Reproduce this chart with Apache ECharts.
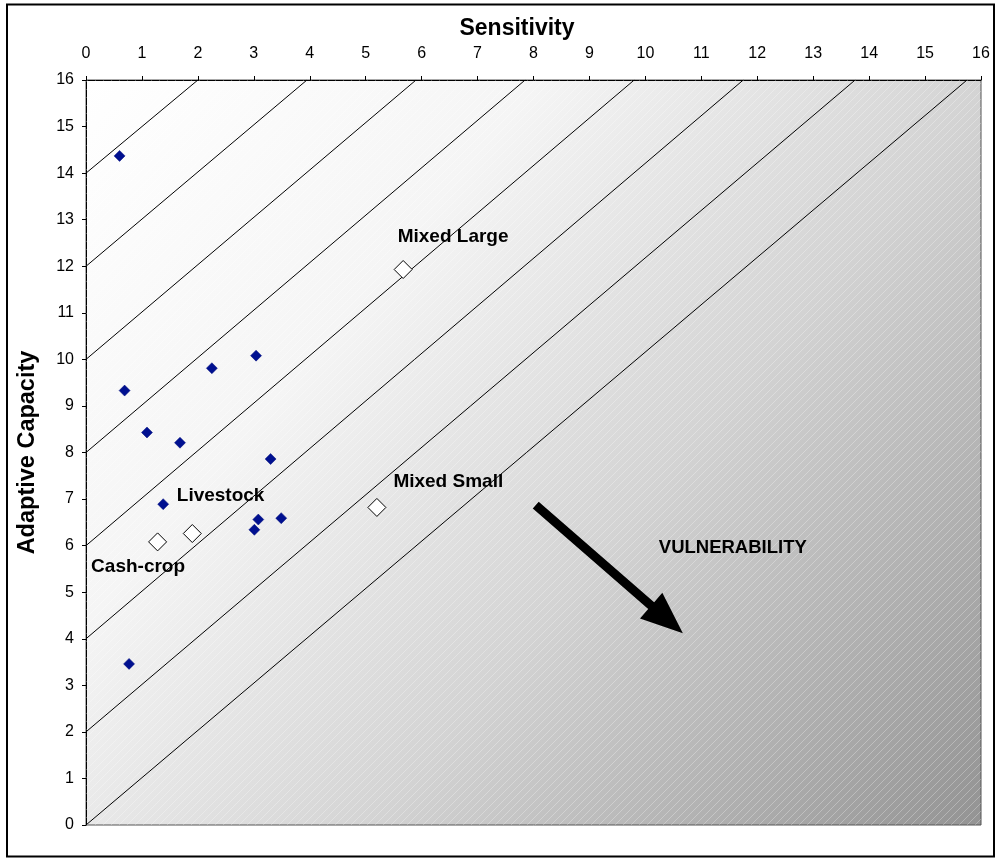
<!DOCTYPE html>
<html>
<head>
<meta charset="utf-8">
<script src="https://cdn.jsdelivr.net/npm/echarts@6/dist/echarts.min.js"></script>
<style>
html,body{margin:0;padding:0;background:#fff;}
#chart{width:996px;height:858px;}
</style>
</head>
<body>
<div id="chart"></div>
<script>
// Individual farm points (Sensitivity, Adaptive Capacity)
const farmSensitivity = [0.60, 0.69, 1.09, 1.68, 2.25, 3.04, 3.30, 1.38, 3.08, 3.49, 3.01, 0.77];
const farmCapacity    = [14.37, 9.33, 8.43, 8.21, 9.81, 10.08, 7.86, 6.89, 6.56, 6.59, 6.34, 3.46];

// Farm-type averages
const typeNames       = ['Mixed Large', 'Mixed Small', 'Livestock', 'Cash-crop'];
const typeSensitivity = [5.67, 5.20, 1.90, 1.28];
const typeCapacity    = [11.93, 6.82, 6.26, 6.08];

// Iso-vulnerability diagonal lines: start capacity at x=0, end sensitivity at y=16
const isoStartY = [14, 12, 10, 8, 6, 4, 2, 0];
const isoEndX   = [2.0, 3.95, 5.9, 7.85, 9.8, 11.75, 13.75, 15.75];

// Axis ticks
const axisMin = 0, axisMax = 16, axisStep = 1;

// Arrow annotation (data coords) and label
const arrowFrom = [8.04, 6.87];
const arrowTo   = [10.67, 4.12];
const vulnLabel = 'VULNERABILITY';
const vulnPos   = [10.24, 5.95];

const chart = echarts.init(document.getElementById('chart'), null, {renderer: 'canvas'});

// hatch pattern
const pc = document.createElement('canvas');
pc.width = 8; pc.height = 8;
const pctx = pc.getContext('2d');
pctx.strokeStyle = 'rgba(255,255,255,0.28)';
pctx.lineWidth = 1;
pctx.beginPath();
pctx.moveTo(-1, 9); pctx.lineTo(9, -1);
pctx.moveTo(-1, 1); pctx.lineTo(1, -1);
pctx.moveTo(7, 9); pctx.lineTo(9, 7);
pctx.stroke();

const isoSeries = isoStartY.map((y0, i) => ({
  type: 'line',
  data: [[0, y0], [isoEndX[i], 16]],
  symbol: 'none',
  lineStyle: {color: '#000', width: 1},
  silent: true,
  z: 3,
  animation: false
}));

const labelPos = {
  'Mixed Large': [4, -23],
  'Mixed Small': [26, -16],
  'Livestock': [-6, -28],
  'Cash-crop': [-57, 34]
};

const labelStyle = {
  show: true, color: '#000', fontSize: 19, fontWeight: 'bold',
  fontFamily: 'Liberation Sans, Arial', align: 'left', verticalAlign: 'middle'
};

const typeData = typeNames.map((n, i) => ({
  value: [typeSensitivity[i], typeCapacity[i]],
  name: n,
  label: Object.assign({}, labelStyle, {formatter: n, position: labelPos[n]})
}));

const option = {
  animation: false,
  backgroundColor: '#fff',
  grid: {
    left: 86, top: 80, right: 15, bottom: 33,
    show: true,
    borderColor: '#555',
    borderWidth: 1,
    backgroundColor: new echarts.graphic.LinearGradient(0, 0, 1, 1, [
      {offset: 0, color: '#ffffff'},
      {offset: 0.3, color: '#f5f5f5'},
      {offset: 0.6, color: '#d3d3d3'},
      {offset: 1, color: '#939393'}
    ])
  },
  xAxis: {
    type: 'value', position: 'top',
    min: axisMin, max: axisMax, interval: axisStep,
    name: 'Sensitivity', nameLocation: 'middle', nameGap: 40,
    nameTextStyle: {fontFamily: 'Liberation Sans, Arial', fontSize: 23, fontWeight: 'bold', color: '#000', padding: [0, 33, 0, 0]},
    axisLine: {show: true, onZero: false, lineStyle: {color: '#000', width: 1}},
    axisTick: {show: true, length: 4, lineStyle: {color: '#000'}},
    axisLabel: {color: '#000', fontSize: 16, fontFamily: 'Liberation Sans, Arial', margin: 18},
    splitLine: {show: false}
  },
  yAxis: {
    type: 'value',
    min: axisMin, max: axisMax, interval: axisStep,
    name: 'Adaptive Capacity', nameLocation: 'middle', nameGap: 46,
    nameTextStyle: {fontFamily: 'Liberation Sans, Arial', fontSize: 23.5, fontWeight: 'bold', color: '#000'},
    axisLine: {show: true, onZero: false, lineStyle: {color: '#000', width: 1}},
    axisTick: {show: true, length: 4, lineStyle: {color: '#000'}},
    axisLabel: {color: '#000', fontSize: 16, fontFamily: 'Liberation Sans, Arial', margin: 12},
    splitLine: {show: false}
  },
  series: [
    ...isoSeries,
    {
      type: 'scatter',
      data: farmSensitivity.map((x, i) => [x, farmCapacity[i]]),
      symbol: 'diamond',
      symbolSize: [11, 11],
      itemStyle: {color: '#001090', borderColor: '#000c7a', borderWidth: 0.5, opacity: 1},
      z: 5
    },
    {
      type: 'scatter',
      data: typeData,
      symbol: 'diamond',
      symbolSize: [18, 18],
      itemStyle: {color: '#fff', borderColor: '#000', borderWidth: 1, opacity: 1},
      label: labelStyle,
      z: 6
    }
  ]
};
chart.setOption(option);

function buildGraphics() {
  const gl = 86, gt = 80, gw = 996 - 86 - 15, gh = 858 - 80 - 33;
  const p0 = chart.convertToPixel({gridIndex: 0}, arrowFrom);
  const p1 = chart.convertToPixel({gridIndex: 0}, arrowTo);
  const dx = p1[0] - p0[0], dy = p1[1] - p0[1];
  const len = Math.sqrt(dx * dx + dy * dy);
  const ux = dx / len, uy = dy / len;
  const nx = -uy, ny = ux;
  const headLen = 42, headHalf = 17, shaftHalf = 4.5;
  const bx = p1[0] - ux * headLen, by = p1[1] - uy * headLen;
  const pts = [
    [p0[0] + nx * shaftHalf, p0[1] + ny * shaftHalf],
    [bx + nx * shaftHalf, by + ny * shaftHalf],
    [bx + nx * headHalf, by + ny * headHalf],
    [p1[0], p1[1]],
    [bx - nx * headHalf, by - ny * headHalf],
    [bx - nx * shaftHalf, by - ny * shaftHalf],
    [p0[0] - nx * shaftHalf, p0[1] - ny * shaftHalf]
  ];
  const vp = chart.convertToPixel({gridIndex: 0}, vulnPos);
  chart.setOption({
    graphic: [
      {
        type: 'rect', z: 1, silent: true,
        shape: {x: gl, y: gt, width: gw, height: gh},
        style: {fill: {image: pc, repeat: 'repeat'}}
      },
      {
        type: 'polygon', z: 10, silent: true,
        shape: {points: pts},
        style: {fill: '#000'}
      },
      {
        type: 'text', z: 10, silent: true,
        x: vp[0], y: vp[1],
        style: {text: vulnLabel, fill: '#000', fontSize: 18.5, fontWeight: 'bold',
                fontFamily: 'Liberation Sans, Arial', verticalAlign: 'middle'}
      },
      {
        type: 'rect', z: 10, silent: true,
        shape: {x: 7, y: 4.5, width: 987, height: 852},
        style: {fill: 'none', stroke: '#000', lineWidth: 2}
      }
    ]
  });
}
buildGraphics();
</script>
</body>
</html>
